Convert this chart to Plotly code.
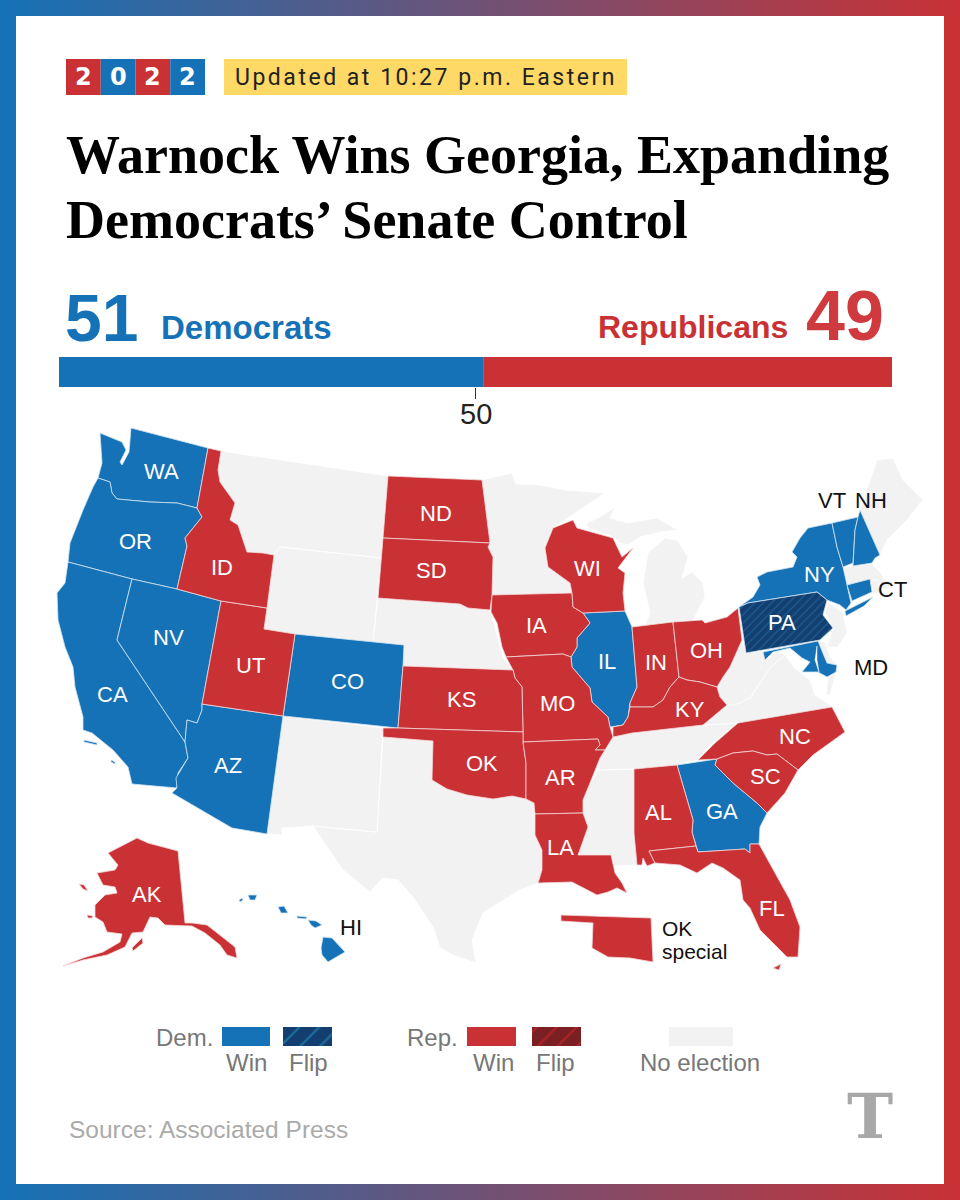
import plotly.graph_objects as go

DEM_BLUE = "#1572b6"; REP_RED = "#c93135"; NONE_GRAY = "#f2f2f2"

# Seat counts
PARTIES = ["Democrats", "Republicans"]
SEATS = [51, 49]

# State outlines
WA=[(131,428),(208,448),(197,508),(177,503),(150,502),(117,499),(112,493),(110,482),(98,478),(102,463),(100,433),(122,442),(126,450),(120,462),(122,465),(129,452)]
OR=[(98,478),(110,482),(112,493),(117,499),(150,502),(177,503),(197,508),(202,517),(185,538),(187,546),(177,589),(132,579),(68,562),(70,543),(83,510),(93,487)]
CA=[(68,562),(132,579),(117,640),(185,742),(188,758),(178,773),(177,788),(132,784),(128,767),(113,750),(92,733),(83,730),(83,717),(75,687),(73,667),(65,647),(58,620),(57,593),(65,583)]
CA_ISLE_A=[(84,740),(97,743),(97,745),(84,742)]
CA_ISLE_B=[(111,760),(115,762),(115,764),(111,762)]
NV=[(132,579),(177,589),(221,601),(202,704),(202,710),(197,723),(187,720),(185,742),(117,640)]
UT=[(221,601),(267,608),(264,629),(295,634),(283,716),(202,704)]
ID=[(208,448),(221,451),(218,470),(220,482),(235,503),(230,520),(238,525),(247,552),(263,553),(274,555),(267,608),(221,601),(177,589),(187,546),(185,538),(202,517),(197,508)]
MT=[(221,451),(388,476),(381,558),(280,547),(274,555),(263,553),(247,552),(238,525),(230,520),(235,503),(220,482),(218,470)]
WY=[(280,547),(381,558),(373,642),(295,634),(264,629),(267,608),(274,555)]
ND=[(388,476),(482,480),(490,543),(383,538)]
SD=[(383,538),(490,543),(488,547),(493,557),(492,595),(490,610),(468,608),(460,604),(378,598)]
NE=[(378,598),(460,604),(468,608),(490,610),(493,620),(503,657),(513,670),(403,666),(404,645),(373,642)]
MN=[(482,480),(512,473),(516,484),(540,485),(565,490),(605,493),(553,528),(545,548),(548,567),(570,583),(572,593),(492,595),(493,557),(488,547),(490,543)]
IA=[(492,595),(572,593),(573,607),(583,613),(590,623),(577,638),(577,647),(571,657),(563,654),(506,657),(502,647),(497,623),(491,612)]
WI=[(553,528),(573,520),(577,528),(613,538),(622,557),(633,548),(618,568),(625,573),(623,593),(625,611),(583,613),(573,607),(572,593),(570,583),(548,567),(545,548)]
IL=[(583,613),(625,611),(632,627),(637,687),(630,703),(628,717),(623,725),(610,727),(608,717),(592,702),(590,688),(572,667),(571,657),(577,647),(577,638),(590,623)]
IN=[(632,627),(673,622),(679,677),(670,687),(663,700),(653,707),(643,707),(630,707),(630,703),(637,687)]
OH=[(673,622),(702,620),(705,623),(727,617),(738,608),(742,640),(730,667),(723,677),(717,687),(700,682),(687,680),(679,677)]
KY=[(630,707),(643,707),(653,707),(663,700),(670,687),(679,677),(687,680),(700,682),(717,687),(720,697),(727,705),(703,725),(632,733),(613,737),(613,727),(623,725),(628,717)]
MO=[(506,657),(563,654),(571,657),(572,667),(590,688),(592,702),(608,717),(610,727),(613,737),(608,745),(605,750),(595,750),(600,745),(598,739),(523,742),(523,732),(522,687),(515,678),(513,670)]
KS=[(403,666),(513,670),(515,678),(522,687),(523,732),(398,728)]
CO=[(295,634),(373,642),(404,645),(403,666),(398,728),(283,716)]
OK=[(383,728),(398,728),(523,732),(523,742),(526,763),(526,799),(512,796),(493,799),(467,795),(447,789),(432,780),(433,741),(383,737)]
AR=[(523,742),(598,739),(600,745),(595,750),(605,750),(600,758),(590,783),(583,800),(583,813),(535,814),(534,803),(526,799),(526,763)]
LA=[(535,814),(583,813),(588,827),(578,855),(611,855),(615,873),(622,883),(627,893),(617,888),(608,892),(597,895),(583,888),(572,882),(538,883),(542,870),(542,850),(535,835)]
TX=[(383,737),(433,741),(432,780),(447,789),(467,795),(493,799),(512,796),(526,799),(534,803),(535,835),(542,850),(542,870),(538,883),(520,890),(483,913),(472,940),(476,963),(453,955),(440,948),(433,927),(413,897),(398,880),(383,878),(370,892),(343,870),(313,826),(377,832)]
NM=[(283,716),(383,728),(377,832),(313,826),(282,828),(282,835),(267,834)]
AZ=[(202,704),(283,716),(267,834),(232,828),(172,793),(177,788),(176,778),(188,758),(185,742),(187,720),(197,723),(202,710)]
AL=[(634,769),(677,765),(693,820),(692,832),(696,846),(649,851),(655,863),(647,866),(643,858),(642,865),(637,865),(634,833)]
MS=[(598,770),(634,769),(634,833),(637,865),(615,866),(611,855),(578,855),(588,827),(583,813),(583,800),(590,783)]
TN=[(608,745),(613,737),(632,733),(703,725),(737,723),(717,740),(707,748),(698,760),(677,765),(634,769),(598,770),(600,758),(605,750)]
NC=[(738,723),(832,707),(845,732),(827,745),(813,755),(798,770),(777,754),(767,755),(753,751),(733,753),(717,759),(698,760),(715,743)]
SC=[(717,759),(733,753),(753,751),(767,755),(777,754),(798,770),(785,793),(767,813),(757,803),(733,783),(715,765)]
GA=[(677,765),(717,759),(715,765),(733,783),(757,803),(767,813),(760,827),(759,844),(750,844),(750,853),(745,849),(698,852),(692,832),(693,820)]
FL=[(649,851),(696,846),(698,852),(745,849),(750,853),(750,844),(759,844),(773,870),(790,900),(800,927),(798,957),(787,957),(773,943),(760,930),(750,908),(743,900),(740,880),(723,868),(712,863),(697,873),(680,865),(655,863)]
FL_KEYS=[(773,968),(781,964),(779,970)]
WV=[(717,687),(723,677),(730,667),(742,640),(747,653),(763,651),(766,660),(778,650),(785,655),(770,668),(762,680),(750,698),(735,705),(727,705),(720,697)]
VA=[(703,725),(727,705),(735,705),(750,698),(762,680),(770,668),(785,655),(795,668),(810,680),(815,695),(833,707),(738,723)]
VA_SHORE=[(828,677),(836,673),(830,695),(826,695)]
DE=[(818,641),(825,642),(830,657),(837,665),(827,663)]
NJ=[(828,602),(843,613),(847,633),(838,647),(827,647),(833,628),(825,613)]
MD=[(763,652),(818,641),(827,663),(837,665),(836,672),(827,677),(818,672),(802,672),(810,662),(802,658),(790,648),(773,652),(765,660)]
MD_BAY=[(817,646),(815,660),(819,672),(817,660)]
PA=[(739,607),(748,603),(817,592),(827,600),(823,615),(833,628),(820,640),(746,653)]
NY=[(739,607),(753,597),(760,585),(757,577),(767,572),(793,567),(797,557),(792,552),(800,538),(808,528),(832,523),(837,547),(843,567),(847,585),(851,603),(846,610),(840,605),(827,600),(817,592),(748,603)]
LONG_ISLAND=[(845,611),(855,606),(873,597),(864,606),(846,616)]
VT=[(832,523),(858,517),(855,530),(853,563),(843,567),(837,547)]
NH=[(858,517),(860,510),(880,555),(875,558),(872,563),(853,566),(855,530)]
ME=[(860,510),(867,490),(877,460),(893,458),(903,480),(923,500),(907,520),(887,540),(880,555)]
MA=[(843,567),(872,564),(880,572),(885,580),(895,582),(885,590),(872,582),(847,585)]
CT=[(847,585),(870,579),(872,592),(852,601)]
RI=[(871,580),(878,580),(880,592),(873,594)]
MI_LOWER=[(665,538),(677,540),(688,557),(682,578),(692,572),(703,583),(705,597),(697,613),(693,620),(673,622),(645,625),(650,613),(643,583),(648,553)]
MI_UPPER=[(587,523),(600,517),(615,507),(610,518),(627,523),(657,518),(678,530),(660,532),(640,537),(628,545),(620,543),(615,538),(587,527)]
AK=[(137,838),(148,843),(178,851),(185,923),(192,923),(207,925),(235,947),(237,958),(227,955),(220,945),(205,933),(192,926),(165,925),(158,918),(150,917),(143,932),(132,933),(125,947),(107,955),(83,960),(63,966),(83,958),(103,952),(120,942),(122,934),(107,932),(103,922),(95,917),(95,905),(105,895),(117,893),(115,887),(103,885),(97,873),(115,870),(118,865),(108,853),(127,843)]
AK_STLAWRENCE=[(79,884),(84,885),(88,891),(83,889)]
AK_NUNIVAK=[(87,915),(93,916),(92,918),(88,918)]
AK_KODIAK=[(132,948),(142,938),(143,943),(133,951)]
HI_BIG=[(323,937),(332,938),(345,952),(337,957),(328,962),(322,955),(321,948)]
HI_MAUI=[(308,920),(316,921),(322,925),(315,928),(311,925)]
HI_OAHU=[(278,907),(284,906),(288,913),(281,913)]
HI_KAUAI=[(248,895),(257,895),(255,900),(250,900)]
HI_MOLOKAI=[(297,916),(307,917),(306,919),(297,918)]
HI_NIIHAU=[(239,900),(242,898),(243,900),(240,902)]
OK_SPECIAL=[(561,915),(651,918),(653,962),(630,958),(608,957),(592,948),(593,923),(561,921)]

GRAY_SHAPES=[MT,WY,NE,MN,TX,NM,MS,TN,WV,VA,VA_SHORE,DE,NJ,ME,MA,RI,MI_LOWER,MI_UPPER]
DEM_SHAPES=[WA,OR,CA,CA_ISLE_A,CA_ISLE_B,NV,CO,AZ,IL,NY,LONG_ISLAND,VT,NH,CT,MD,GA,HI_BIG,HI_MAUI,HI_OAHU,HI_KAUAI,HI_MOLOKAI,HI_NIIHAU]
REP_SHAPES=[UT,ID,ND,SD,IA,WI,IN,OH,KY,MO,KS,OK,AR,LA,AL,NC,SC,FL,FL_KEYS,AK,AK_NUNIVAK,AK_STLAWRENCE,AK_KODIAK,OK_SPECIAL]
DEM_FLIP_SHAPES=[PA]

WHITE_LABELS=[("WA",161,471),("OR",135,541),("ID",222,567),("NV",168,637),("CA",112,694),("UT",250,665),("CO",347,681),("AZ",228,765),("ND",436,513),("SD",431,570),("WI",587,568),("IA",536,625),("IL",607,661),("IN",656,662),("OH",706,650),("KY",690,709),("KS",461,699),("MO",557,703),("OK",482,763),("AR",560,777),("LA",560,847),("AL",658,812),("GA",722,811),("SC",765,776),("NC",795,736),("FL",772,908),("NY",819,574),("PA",782,622),("AK",147,894)]
BLACK_LABELS=[("VT",832,500),("NH",871,500),("CT",892,589),("MD",871,667),("HI",351,927)]
SPECIAL_LABELS=[("OK",660,928),("special",660,951)]

fig=go.Figure()

def poly(pts,color,line="white",lw=0.8,**kw):
    xs=[p[0] for p in pts]+[pts[0][0]]
    ys=[p[1] for p in pts]+[pts[0][1]]
    fig.add_trace(go.Scatter(x=xs,y=ys,mode="lines",fill="toself",fillcolor=color,
        line=dict(color=line,width=lw),hoverinfo="skip",showlegend=False,**kw))

def rect(x0,y0,x1,y1,color,**kw):
    poly([(x0,y0),(x1,y0),(x1,y1),(x0,y1)],color,line=color,lw=0,**kw)

GRAD=dict(type="horizontal",colorscale=[[0,DEM_BLUE],[1,REP_RED]])
rect(0,0,16,1200,DEM_BLUE)
rect(944,0,960,1200,REP_RED)
for y0,y1 in [(0,16),(1184,1200)]:
    fig.add_trace(go.Scatter(x=[0,960,960,0,0],y=[y0,y0,y1,y1,y0],mode="lines",fill="toself",
        fillgradient=GRAD,line=dict(width=0),hoverinfo="skip",showlegend=False))

# Header boxes
for i,c in enumerate([REP_RED,DEM_BLUE,REP_RED,DEM_BLUE]):
    rect(66+i*34.75,59,66+(i+1)*34.75,95,c)
rect(224,59,627,95,"#ffd966")

for s in GRAY_SHAPES: poly(s,NONE_GRAY)
for s in DEM_SHAPES: poly(s,DEM_BLUE,line="#cfe3f2")
for s in REP_SHAPES: poly(s,REP_RED,line="#f3d6d6")
poly(MD_BAY,"white",line="white",lw=0.5)
HATCH_D=dict(shape="/",size=6,solidity=0.22,fgcolor="#2a78b8",bgcolor="#123f6f")
HATCH_R=dict(shape="/",size=14,solidity=0.15,fgcolor="#e8252c",bgcolor="#7a1f22")
for s in DEM_FLIP_SHAPES: poly(s,"#123f6f",line="#cfe3f2",fillpattern=HATCH_D)

# Legend swatches
rect(222,1027,270,1046,DEM_BLUE)
poly([(283,1027),(332,1027),(332,1046),(283,1046)],"#123f6f",line="#123f6f",lw=0,fillpattern=dict(shape="/",size=14,solidity=0.15,fgcolor="#2aa0d0",bgcolor="#123f6f"))
rect(467,1027,516,1046,REP_RED)
poly([(532,1027),(581,1027),(581,1046),(532,1046)],"#7a1f22",line="#7a1f22",lw=0,fillpattern=HATCH_R)
rect(669,1027,733,1046,NONE_GRAY)

# Seat bar through its own axis
for party,seats,base,col in [(PARTIES[0],SEATS[0],0,DEM_BLUE),(PARTIES[1],SEATS[1],SEATS[0],REP_RED)]:
    fig.add_trace(go.Bar(x=[seats],y=[0],base=[base],orientation="h",marker=dict(color=col,line=dict(width=0)),
        width=1,xaxis="x2",yaxis="y2",showlegend=False,hoverinfo="skip",name=party))

SANS="Liberation Sans"; SERIF="Liberation Serif"
def txt(s,x,y,size,color,font=SANS,anchor="center",bold=False):
    fig.add_annotation(text=f"<b>{s}</b>" if bold else s,x=x,y=y,xref="x",yref="y",showarrow=False,
        xanchor=anchor,yanchor="middle",font=dict(family=font,size=size,color=color),align="left")

for d,i in zip("2022",range(4)):
    txt(d,66+(i+.5)*34.75,77,24,"white",font="DejaVu Sans",bold=True)
txt("Updated at 10:27 p.m. Eastern",233,77,23,"#222",font="Roboto",anchor="left")
txt("Warnock Wins Georgia, Expanding",64,155,54,"#000",font=SERIF,anchor="left",bold=True)
txt("Democrats’ Senate Control",64,220,54,"#000",font=SERIF,anchor="left",bold=True)
txt(str(SEATS[0]),63,318,66,DEM_BLUE,anchor="left",bold=True)
txt(PARTIES[0],159,327,33,DEM_BLUE,anchor="left",bold=True)
txt(PARTIES[1],790,327,32,REP_RED,anchor="right",bold=True)
txt(str(SEATS[1]),886,316,70,"#cf3a3f",anchor="right",bold=True)
for s,x,y in WHITE_LABELS: txt(s,x,y,22,"white")
for s,x,y in BLACK_LABELS: txt(s,x,y,22,"#111")
for s,x,y in SPECIAL_LABELS: txt(s,x,y,21,"#111",anchor="left")
txt("Dem.",215,1037,24,"#777",anchor="right")
txt("Win",246,1062,24,"#777"); txt("Flip",308,1062,24,"#777")
txt("Rep.",460,1037,24,"#777",anchor="right")
txt("Win",493,1062,24,"#777"); txt("Flip",555,1062,24,"#777")
txt("No election",700,1062,24,"#777")
txt("Source: Associated Press",67,1129,24.5,"#aaa",anchor="left")
txt("T",870,1116,62,"#a8a8a8",font="DejaVu Serif",bold=True)
fig.add_annotation(text="50",x=50,xref="x2",y=414,yref="y",showarrow=False,xanchor="center",yanchor="middle",
    font=dict(family=SANS,size=29,color="#222"))

fig.update_layout(width=960,height=1200,margin=dict(l=0,r=0,t=0,b=0),paper_bgcolor="white",plot_bgcolor="rgba(0,0,0,0)",
    showlegend=False,barmode="overlay",
    xaxis=dict(range=[0,960],domain=[0,1],visible=False,fixedrange=True),
    yaxis=dict(range=[1200,0],domain=[0,1],visible=False,fixedrange=True),
    xaxis2=dict(range=[0,100],domain=[59/960,892/960],anchor="y2",showgrid=False,zeroline=False,showline=False,
        tickvals=[50],showticklabels=False,ticks="outside",ticklen=11,tickwidth=1,tickcolor="#333",fixedrange=True),
    yaxis2=dict(range=[-.5,.5],domain=[1-387/1200,1-357/1200],anchor="x2",visible=False,fixedrange=True))
POST = """
document.body.style.margin='0';
var t=[...document.querySelectorAll('.annotation-text')].find(function(e){return e.textContent.indexOf('Updated')===0;});
if(t){t.style.letterSpacing=((382-t.getComputedTextLength())/t.textContent.length)+'px';}
"""
fig.write_html("out.html",config=dict(displayModeBar=False),post_script=POST)
